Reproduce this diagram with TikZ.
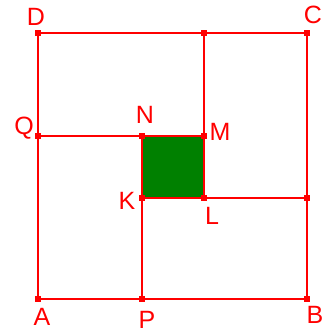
\documentclass[tikz,border=0pt]{standalone}
\usepackage{fontspec}
\setmainfont{Liberation Sans}
\definecolor{sqgreen}{RGB}{0,128,0}
\begin{document}
\begin{tikzpicture}[x=1pt,y=-1pt,
  edge/.style={draw=red,line width=2.6pt},
  vdot/.style={fill=red,minimum size=6.5pt,inner sep=0pt,draw=none,rectangle},
  lbl/.style={text=red,font=\fontsize{25}{27}\selectfont,inner sep=0pt}]
\useasboundingbox (0,0) rectangle (333,333);
\coordinate (A) at (38,299);
\coordinate (B) at (307,299);
\coordinate (C) at (307,33);
\coordinate (D) at (38,33);
\coordinate (Q) at (38,136);
\coordinate (N) at (142,136);
\coordinate (M) at (204,136);
\coordinate (K) at (142,198);
\coordinate (L) at (204,198);
\coordinate (P) at (142,299);
\coordinate (T) at (204,33);
\coordinate (R) at (307,198);
\fill[sqgreen] (N) rectangle (L);
\draw[edge] (A) -- (B) -- (C) -- (D) -- cycle;
\draw[edge] (Q) -- (M) -- (T);
\draw[edge] (N) -- (K) -- (P);
\draw[edge] (K) -- (L) -- (R);
\draw[edge] (M) -- (L);
\foreach \p in {A,B,C,D,Q,N,M,K,L,P,T,R} \node[vdot] at (\p) {};
\node[lbl] (lA) at (42,317) {A};
\node[lbl] (lB) at (315,315) {B};
\node[lbl] (lC) at (313,15) {C};
\node[lbl] (lD) at (36,17) {D};
\node[lbl] (lQ) at (24,128) {Q};
\node[lbl] (lN) at (145,115) {N};
\node[lbl] (lM) at (220,132) {M};
\node[lbl] (lK) at (127,201) {K};
\node[lbl] (lL) at (212,216) {L};
\node[lbl] (lP) at (147,319.5) {P};
\end{tikzpicture}
\end{document}
